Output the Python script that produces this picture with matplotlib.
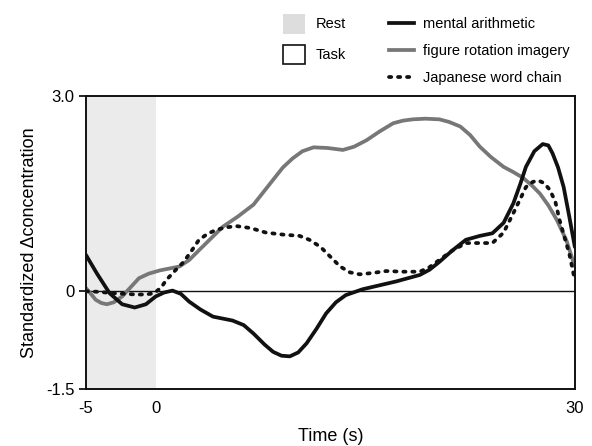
import matplotlib.pyplot as plt
from matplotlib.lines import Line2D
from matplotlib.patches import Patch

plt.rcParams['font.family'] = ['Liberation Sans', 'DejaVu Sans']
plt.rcParams['axes.unicode_minus'] = False

# mental arithmetic
t_ma = [-5, -4.2, -3.3, -2.4, -1.5, -0.7, 0, 0.6, 1.2, 1.8, 2.4, 3.2, 4.1, 5.5, 6.3, 7.0, 7.8, 8.4, 9.0,
        9.6, 10.2, 10.8, 11.5, 12.2, 12.9, 13.6, 14.8, 16.0, 17.2, 18.9, 19.6, 20.3, 21.2, 22.2, 23.2,
        24.1, 24.9, 25.6, 26.1, 26.5, 27.1, 27.7, 28.1, 28.4, 28.8, 29.2, 29.6, 30]
v_ma = [0.56, 0.27, -0.03, -0.2, -0.25, -0.2, -0.08, -0.02, 0.01, -0.04, -0.16, -0.28, -0.39, -0.45,
        -0.52, -0.65, -0.82, -0.93, -0.99, -1.0, -0.94, -0.80, -0.58, -0.34, -0.17, -0.06, 0.03, 0.09,
        0.15, 0.25, 0.33, 0.45, 0.62, 0.79, 0.85, 0.89, 1.05, 1.35, 1.65, 1.91, 2.15, 2.26, 2.24, 2.12,
        1.9, 1.6, 1.15, 0.68]

# figure rotation imagery
t_fr = [-5, -4.6, -4.3, -3.9, -3.5, -3.0, -2.4, -1.8, -1.2, -0.5, 0.3, 1.0, 1.7, 2.4, 3.1, 4.0, 4.8,
        5.9, 7.0, 7.7, 8.4, 9.1, 9.8, 10.5, 11.3, 12.3, 13.4, 14.2, 15.1, 16.0, 17.0, 17.7, 18.4, 19.3,
        20.3, 21.0, 21.8, 22.5, 23.2, 24.0, 24.9, 25.6, 26.3, 26.9, 27.5, 28.1, 28.7, 29.4, 30]
v_fr = [0.05, -0.05, -0.13, -0.18, -0.2, -0.17, -0.08, 0.06, 0.2, 0.27, 0.32, 0.35, 0.38, 0.48, 0.63,
        0.82, 0.99, 1.15, 1.33, 1.52, 1.71, 1.9, 2.04, 2.15, 2.21, 2.2, 2.17, 2.22, 2.32, 2.45, 2.58,
        2.62, 2.64, 2.65, 2.64, 2.6, 2.53, 2.4, 2.22, 2.06, 1.91, 1.83, 1.74, 1.63, 1.5, 1.32, 1.1,
        0.78, 0.38]

# Japanese word chain
t_jw = [-5, -4, -3.1, -2.2, -1.4, -0.7, -0.1, 0.4, 0.75, 1.4, 2.0, 2.5, 3.1, 3.7, 4.3, 5.0, 5.8, 6.8,
        7.9, 9.1, 10.3, 11.0, 11.8, 12.5, 13.2, 13.9, 14.6, 15.5, 16.5, 17.7, 18.9, 19.6, 20.3, 21.2,
        22.2, 23.2, 24.1, 24.9, 25.6, 26.1, 26.5, 27.0, 27.4, 27.8, 28.2, 28.6, 28.9, 29.3, 29.6, 30]
v_jw = [0.0, -0.01, -0.03, -0.04, -0.05, -0.05, -0.03, 0.06, 0.17, 0.32, 0.45, 0.6, 0.79, 0.88, 0.94,
        0.98, 1.0, 0.97, 0.9, 0.87, 0.85, 0.79, 0.68, 0.53, 0.38, 0.29, 0.26, 0.28, 0.31, 0.3, 0.3,
        0.37, 0.48, 0.62, 0.74, 0.74, 0.74, 0.9, 1.2, 1.42, 1.6, 1.68, 1.7, 1.66, 1.56, 1.38, 1.1, 0.8,
        0.58, 0.17]

x_ticks = [-5, 0, 30]
y_ticks = [-1.5, 0, 3.0]
y_tick_labels = ['-1.5', '0', '3.0']
rest_span = (-5, 0)

BLACK = '#111111'
GRAY = '#777777'
DOTS = (0, (0.6, 1.8))

fig = plt.figure(figsize=(5.92, 4.46), dpi=100)
ax = fig.add_axes([0.145, 0.128, 0.826, 0.657])

ax.axvspan(rest_span[0], rest_span[1], color='#ebebeb', lw=0, zorder=0)
ax.axhline(0, color=BLACK, lw=1.0, zorder=1)

ax.plot(t_fr, v_fr, color=GRAY, lw=2.7, solid_capstyle='round', solid_joinstyle='round', zorder=2)
ax.plot(t_jw, v_jw, color=BLACK, lw=2.7, linestyle=DOTS, dash_capstyle='round', zorder=3)
ax.plot(t_ma, v_ma, color=BLACK, lw=2.7, solid_capstyle='round', solid_joinstyle='round', zorder=4)

ax.set_xlim(-5, 30)
ax.set_ylim(-1.5, 3.0)
ax.set_xticks(x_ticks)
ax.set_yticks(y_ticks)
ax.set_yticklabels(y_tick_labels)
ax.tick_params(axis='x', length=0, pad=9, labelsize=12)
ax.tick_params(axis='y', length=5, width=1.2, labelsize=12, pad=3)
for s in ax.spines.values():
    s.set_linewidth(1.4)
    s.set_color(BLACK)

ax.set_xlabel('Time (s)', fontsize=13, labelpad=8)
ax.set_ylabel('Standardized \u0394concentration', fontsize=13, labelpad=6)

h1 = [Patch(facecolor='#dddddd', edgecolor='none'),
      Patch(facecolor='white', edgecolor=BLACK, lw=1.2)]
leg1 = fig.legend(h1, ['Rest', 'Task'], loc='upper left', bbox_to_anchor=(0.458, 0.995),
                  frameon=False, fontsize=10.5, handlelength=1.5, handleheight=1.7,
                  handletextpad=0.75, labelspacing=0.75, borderpad=0.3)

h2 = [Line2D([], [], color=BLACK, lw=2.7),
      Line2D([], [], color=GRAY, lw=2.7),
      Line2D([], [], color=BLACK, lw=2.7, linestyle=DOTS, dash_capstyle='round')]
leg2 = fig.legend(h2, ['mental arithmetic', 'figure rotation imagery', 'Japanese word chain'],
                  loc='upper left', bbox_to_anchor=(0.635, 0.992), frameon=False, fontsize=10.5,
                  handlelength=1.7, handletextpad=0.65, labelspacing=0.9, borderpad=0.4)

fig.savefig('out.png', dpi=100)
